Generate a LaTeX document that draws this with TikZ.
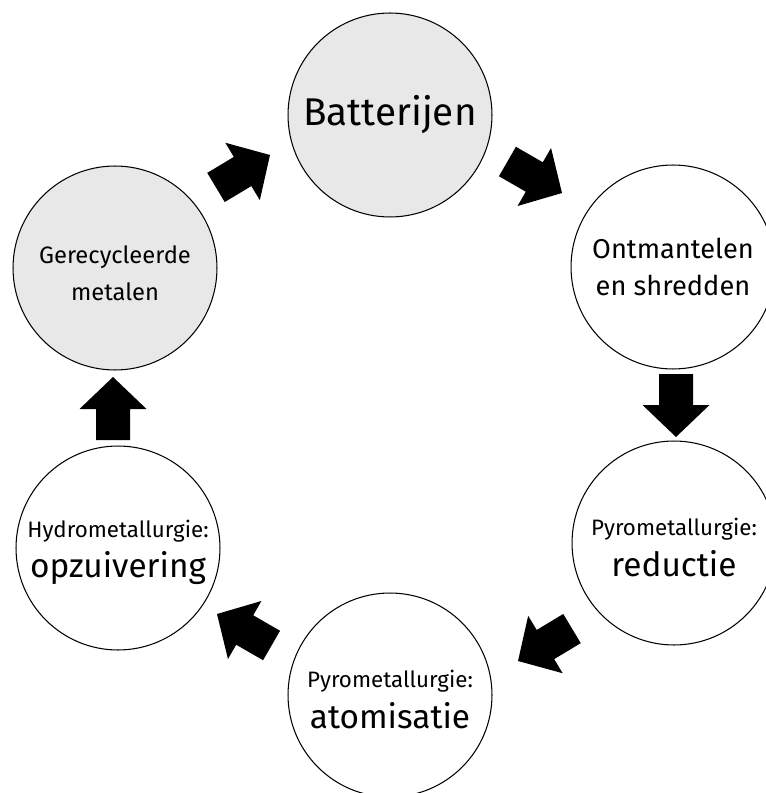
\documentclass[tikz,border=0pt]{standalone}
\usepackage{fontspec}
\setmainfont{Fira Sans}
\definecolor{cyclegray}{HTML}{E8E8E8}
\tikzset{
  stage/.style={circle, draw, line width=0.6pt, minimum size=4.08cm, inner sep=0pt, align=center},
  big/.style={font=\fontsize{19}{23}\selectfont}
}
\newcommand{\steptitle}[1]{{\fontsize{12.7}{14}\selectfont\rule{0pt}{15pt}#1}}

\begin{document}
\begin{tikzpicture}[x=0.02cm, y=-0.02cm]
\useasboundingbox (0,0) rectangle (766,793);

\node (batt) at (390, 115) [stage, fill=cyclegray, font=\fontsize{22}{26}\selectfont] {Batterijen};
\node (ontm) at (673, 267) [stage, font=\fontsize{15.5}{21}\selectfont] {Ontmantelen\\en shredden};
\node (redu) at (674, 543) [stage, big] {\steptitle{Pyrometallurgie:}\\reductie};
\node (atom) at (390, 695) [stage, big] {\steptitle{Pyrometallurgie:}\\atomisatie};
\node (hydr) at (118, 548) [stage, big] {\steptitle{Hydrometallurgie:}\\opzuivering};
\node (metl) at (115, 268) [stage, fill=cyclegray, font=\fontsize{13.5}{21}\selectfont] {\rule{0pt}{16pt}Gerecycleerde\\metalen};

% block arrows: tip at the given point
\fill[black, shift={(270,155)}, rotate=31] (0,0) -- (-32,-33.5) -- (-32,-17) -- (-63,-17) -- (-63,17) -- (-32,17) -- (-32,33.5) -- cycle;
\fill[black, shift={(562,193)}, rotate=-30] (0,0) -- (-32,-33.5) -- (-32,-17) -- (-63,-17) -- (-63,17) -- (-32,17) -- (-32,33.5) -- cycle;
\fill[black, shift={(676,437)}, rotate=-90] (0,0) -- (-32,-33.5) -- (-32,-17) -- (-63,-17) -- (-63,17) -- (-32,17) -- (-32,33.5) -- cycle;
\fill[black, shift={(518,661)}, rotate=211] (0,0) -- (-32,-33.5) -- (-32,-17) -- (-63,-17) -- (-63,17) -- (-32,17) -- (-32,33.5) -- cycle;
\fill[black, shift={(217,614)}, rotate=150] (0,0) -- (-32,-33.5) -- (-32,-17) -- (-63,-17) -- (-63,17) -- (-32,17) -- (-32,33.5) -- cycle;
\fill[black, shift={(113,377)}, rotate=90] (0,0) -- (-32,-33.5) -- (-32,-17) -- (-63,-17) -- (-63,17) -- (-32,17) -- (-32,33.5) -- cycle;

\end{tikzpicture}
\end{document}
